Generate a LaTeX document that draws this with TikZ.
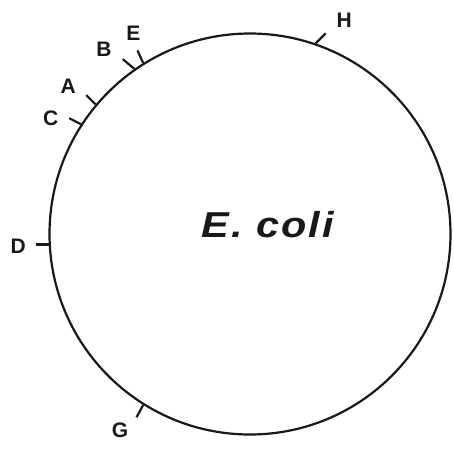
\documentclass[tikz,border=0pt]{standalone}
\usepackage{fontspec}
\setmainfont{Liberation Sans}
\newfontfamily\ecolifont[LetterSpace=5]{Liberation Sans}
\usetikzlibrary{calc}
\begin{document}
\begin{tikzpicture}[x=1pt,y=-1pt,
  ring/.style={circle, draw=black!90, line width=2.2pt, minimum size=401pt, inner sep=0pt},
  tickline/.style={draw=black!90, line width=2.2pt},
  lbl/.style={font=\fontsize{21}{23}\selectfont\bfseries, inner sep=0pt, text=black!90},
  title/.style={font=\ecolifont\fontsize{36}{40}\selectfont\bfseries\itshape, inner sep=0pt, anchor=base, text=black!90, xscale=1.15}]
\useasboundingbox (0,0) rectangle (454,448);
\node[ring] (cell) at (250,234) {};
\node[title] (name) at (267.5,237) {E. coli};
% tick ends
\coordinate (tH) at ($(cell.71.6)+(10,-10)$);
\coordinate (tE) at ($(cell.122.5)+(-5.7,-12.6)$);
\coordinate (tB) at ($(cell.125.7)+(-11.6,-9.7)$);
\coordinate (tA) at ($(cell.140.4)+(-9.4,-9.3)$);
\coordinate (tC) at ($(cell.147.6)+(-11.7,-6)$);
\coordinate (tD) at ($(cell.183.9)+(-12.4,0)$);
\coordinate (tG) at ($(cell.238.3)+(-6.6,12.3)$);
\draw[tickline] (cell.71.6) -- (tH);
\draw[tickline] (cell.122.5) -- (tE);
\draw[tickline] (cell.125.7) -- (tB);
\draw[tickline] (cell.140.4) -- (tA);
\draw[tickline] (cell.147.6) -- (tC);
\draw[tickline] (cell.183.9) -- (tD);
\draw[tickline] (cell.238.3) -- (tG);
% labels
\node[lbl] (lH) at (344.3,20.7) {H};
\node[lbl] (lE) at (133.3,33.3) {E};
\node[lbl] (lB) at (104,49.3) {B};
\node[lbl] (lA) at (68.3,86) {A};
\node[lbl] (lC) at (50.7,118.3) {C};
\node[lbl] (lD) at (18.3,246.7) {D};
\node[lbl] (lG) at (120,430.7) {G};
\end{tikzpicture}
\end{document}
